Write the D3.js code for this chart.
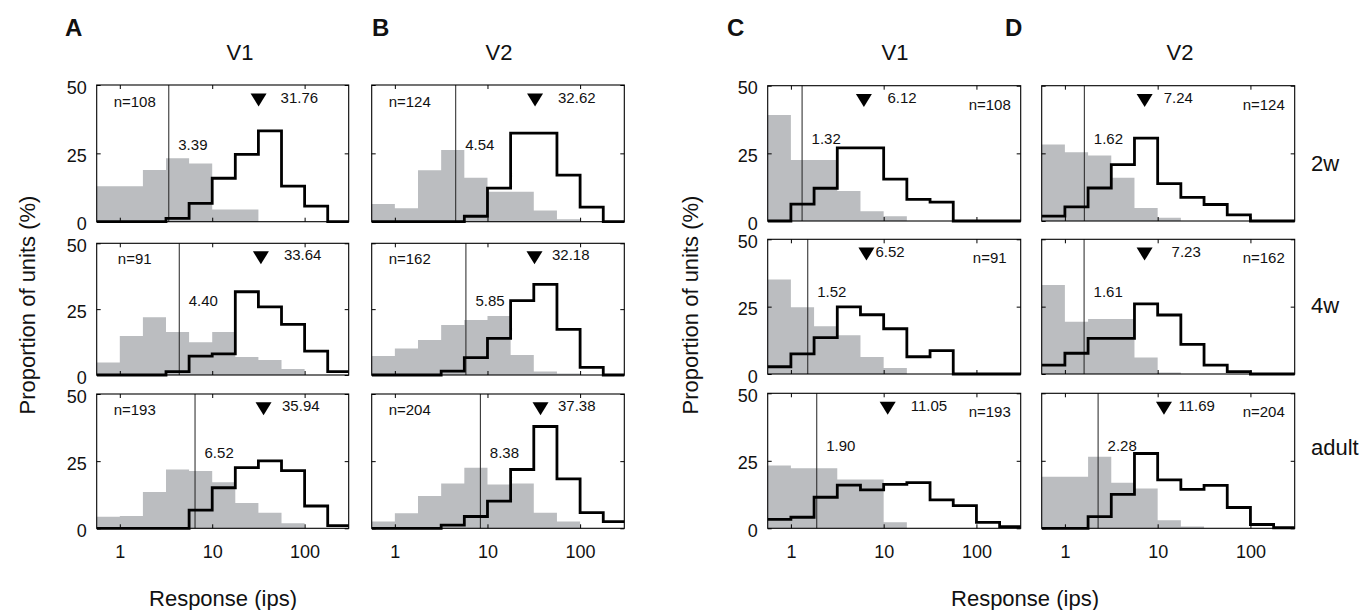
<!DOCTYPE html>
<html>
<head>
<meta charset="utf-8">
<script src="https://cdn.jsdelivr.net/npm/d3@7"></script>
<style>
  html, body { margin: 0; padding: 0; background: #fff; }
  svg text { font-family: "Liberation Sans", Arial, Helvetica, sans-serif; fill: #111; }
</style>
</head>
<body>
<svg id="fig" width="1372" height="610"></svg>
<script>
// Quarter-decade bin edges (ips)
const binEdges = [0.5623, 1, 1.778, 3.162, 5.623, 10, 17.78, 31.62, 56.23, 100, 177.8, 316.2];
const xMax = 300;
const xTicks = [1, 10, 100];
const yTicks = [0, 25, 50];
const ages = ["2w", "4w", "adult"];
const areaNames = ["V1", "V2", "V1", "V2"];
const panelLetters = ["A", "B", "C", "D"];

// Gray histograms (% of units per bin), rows: 2w, 4w, adult
const grayA = [
  [13.0, 13.0, 18.9, 23.2, 21.3, 4.5, 4.5, 0, 0, 0, 0],
  [4.7, 14.8, 21.9, 16.3, 12.4, 16.3, 6.8, 5.7, 2.3, 0, 0],
  [4.3, 4.6, 13.5, 21.9, 21.3, 17.1, 9.4, 5.8, 1.9, 0, 0]
];
const grayB = [
  [6.5, 4.9, 18.8, 26.2, 16.1, 11.0, 11.0, 4.1, 0.9, 0, 0],
  [7.2, 10.1, 13.3, 19.0, 20.9, 22.4, 7.6, 1.3, 0.6, 0, 0],
  [2.5, 5.6, 12.0, 16.7, 22.5, 16.3, 16.7, 5.8, 2.5, 0, 0]
];
const grayC = [
  [39.2, 22.5, 22.5, 11.1, 3.6, 1.8, 0, 0, 0, 0, 0],
  [35.1, 24.8, 17.7, 14.4, 6.3, 2.2, 0, 0, 0, 0, 0],
  [23.3, 22.2, 22.2, 18.1, 18.1, 2.2, 0, 0, 0, 0, 0]
];
const grayD = [
  [28.3, 25.4, 24.2, 16.0, 4.8, 1.2, 0, 0, 0, 0, 0],
  [33.0, 19.4, 20.4, 20.4, 6.1, 0.6, 0, 0, 0, 0, 0],
  [19.1, 19.1, 26.5, 16.9, 14.7, 3.0, 0.7, 0, 0, 0, 0]
];

// Black outlined histograms (% of units per bin)
const lineA = [
  [0, 0, 0, 1.2, 6.7, 15.9, 24.6, 33.2, 13.0, 5.7, 0],
  [0, 0, 0, 1.3, 7.2, 8.0, 31.6, 25.9, 19.2, 9.1, 1.3],
  [0, 0, 0, 0, 6.8, 15.1, 22.6, 25.1, 21.5, 8.3, 1.0]
];
const lineB = [
  [0, 0, 0, 0, 2.0, 12.3, 32.4, 32.4, 17.0, 5.3, 0],
  [0, 0, 0, 1.5, 6.6, 13.9, 28.2, 34.4, 17.3, 2.9, 0],
  [0, 0, 0, 1.2, 4.4, 10.1, 21.9, 37.9, 18.4, 5.8, 2.5]
];
const lineC = [
  [0, 6.2, 12.1, 27.0, 27.0, 15.5, 8.0, 7.0, 0, 0, 0],
  [2.7, 7.5, 13.5, 24.9, 22.0, 16.8, 6.4, 8.7, 0, 0, 0],
  [3.3, 4.1, 11.5, 16.0, 14.2, 16.3, 16.9, 10.5, 8.4, 2.2, 0.6]
];
const lineD = [
  [1.8, 5.2, 12.2, 20.8, 30.6, 13.8, 8.7, 6.1, 2.3, 0, 0],
  [3.3, 7.7, 13.2, 13.2, 26.0, 21.9, 11.0, 3.3, 0.9, 0, 0],
  [0, 0, 4.3, 12.6, 27.7, 17.9, 14.4, 15.9, 7.7, 1.4, 0.2]
];

// Medians (thin vertical line), means (triangle) and unit counts
const medianA = [3.39, 4.40, 6.52];
const medianB = [4.54, 5.85, 8.38];
const medianC = [1.32, 1.52, 1.90];
const medianD = [1.62, 1.61, 2.28];
const meanA = [31.76, 33.64, 35.94];
const meanB = [32.62, 32.18, 37.38];
const meanC = [6.12, 6.52, 11.05];
const meanD = [7.24, 7.23, 11.69];
const countA = [108, 91, 193];
const countB = [124, 162, 204];
const countC = [108, 91, 193];
const countD = [124, 162, 204];

// ---- layout ----
const colX = [[96.7, 348.7], [371.7, 624.3], [767.7, 1020.7], [1041.7, 1294.7]];
const rowYLeft = [[85, 221.7], [243.3, 375], [394, 528.3]];
const rowYRight = [[85.7, 221], [239.3, 374], [393.3, 528.3]];
const meanLabelDx = [[22, 23, 18.5], [23, 17.5, 17.5], [23.5, 9, 23], [19, 27, 14.5]];

const columns = [
  { gray: grayA, line: lineA, med: medianA, mean: meanA, n: countA, nRight: false, yLabels: true },
  { gray: grayB, line: lineB, med: medianB, mean: meanB, n: countB, nRight: false, yLabels: false },
  { gray: grayC, line: lineC, med: medianC, mean: meanC, n: countC, nRight: true, yLabels: true },
  { gray: grayD, line: lineD, med: medianD, mean: meanD, n: countD, nRight: true, yLabels: false }
];

const svg = d3.select("#fig");
const fmt2 = d3.format(".2f");

function stepPoints(vals) {
  const pts = [];
  vals.forEach((v, i) => {
    pts.push([binEdges[i], v]);
    pts.push([binEdges[i + 1], v]);
  });
  return pts;
}

columns.forEach((col, ci) => {
  const rows = ci < 2 ? rowYLeft : rowYRight;
  rows.forEach((ry, ri) => {
    const [x0, x1] = colX[ci];
    const [top, bottom] = ry;
    const x = d3.scaleLog().domain([binEdges[0], xMax]).range([x0, x1]);
    const y = d3.scaleLinear().domain([0, 50]).range([bottom, top]);
    const g = svg.append("g");
    const clipId = `clip-${ci}-${ri}`;
    g.append("clipPath").attr("id", clipId)
      .append("rect").attr("x", x0).attr("y", top - 6)
      .attr("width", x1 - x0).attr("height", bottom - top + 12);

    const gray = stepPoints(col.gray[ri]);
    g.append("path")
      .attr("clip-path", `url(#${clipId})`)
      .attr("fill", "#bbbdc0")
      .attr("d", d3.area().x(d => x(d[0])).y0(y(0)).y1(d => y(d[1]))(gray));

    // median line
    g.append("line")
      .attr("x1", x(col.med[ri])).attr("x2", x(col.med[ri]))
      .attr("y1", top).attr("y2", bottom)
      .attr("stroke", "#222").attr("stroke-width", 1);

    const blk = stepPoints(col.line[ri]);
    g.append("path")
      .attr("clip-path", `url(#${clipId})`)
      .attr("fill", "none").attr("stroke", "#000")
      .attr("stroke-width", 2.8).attr("stroke-linejoin", "miter")
      .attr("d", d3.line().x(d => x(d[0])).y(d => y(d[1]))(blk));

    // frame
    g.append("rect").attr("x", x0).attr("y", top)
      .attr("width", x1 - x0).attr("height", bottom - top)
      .attr("fill", "none").attr("stroke", "#000").attr("stroke-width", 1.1);

    // axes with inward ticks
    const isBottomRow = ri === 2;
    const axB = g.append("g").attr("transform", `translate(0,${bottom})`)
      .call(d3.axisBottom(x).tickValues(xTicks).tickSize(-4).tickPadding(17)
        .tickFormat(isBottomRow ? d3.format("d") : () => ""));
    const axT = g.append("g").attr("transform", `translate(0,${top})`)
      .call(d3.axisTop(x).tickValues(xTicks).tickSize(-4).tickFormat(() => ""));
    const axL = g.append("g").attr("transform", `translate(${x0},0)`)
      .call(d3.axisLeft(y).tickValues(yTicks).tickSize(-4).tickPadding(10)
        .tickFormat(col.yLabels ? d3.format("d") : () => ""));
    const axR = g.append("g").attr("transform", `translate(${x1},0)`)
      .call(d3.axisRight(y).tickValues(yTicks).tickSize(-4).tickFormat(() => ""));
    [axB, axT, axL, axR].forEach(a => {
      a.select(".domain").remove();
      a.selectAll(".tick line").attr("stroke", "#000").attr("stroke-width", 1);
      a.selectAll("text").attr("font-size", 18)
        .attr("font-family", '"Liberation Sans", Arial, sans-serif').attr("fill", "#111");
    });
    axL.selectAll("text").attr("dy", "0.45em");

    // mean marker
    const mx = x(col.mean[ri]);
    const my = y(44.5);
    g.append("path")
      .attr("d", `M${mx - 8},${my - 6.5}L${mx + 8},${my - 6.5}L${mx},${my + 6.5}Z`)
      .attr("fill", "#000");
    g.append("text")
      .attr("x", mx + meanLabelDx[ci][ri]).attr("y", y(45.5))
      .attr("dy", "0.35em").attr("font-size", 15)
      .text(fmt2(col.mean[ri]));

    // median label
    g.append("text")
      .attr("x", x(col.med[ri]) + 9.5).attr("y", y(ci < 2 ? 28 : 30.5))
      .attr("dy", "0.35em").attr("font-size", 15)
      .text(fmt2(col.med[ri]));

    // unit count
    g.append("text")
      .attr("x", col.nRight ? x1 - 31 : x0 + 38)
      .attr("y", y(col.nRight ? 43 : 44))
      .attr("dy", "0.35em").attr("font-size", 15)
      .attr("text-anchor", "middle")
      .text(`n=${col.n[ri]}`);
  });
});

// panel letters and area titles
const letterX = [65, 372, 727, 1005];
const titleX = [240, 499, 895, 1180];
panelLetters.forEach((L, i) => {
  svg.append("text").attr("x", letterX[i]).attr("y", 36)
    .attr("font-size", 24).attr("font-weight", "bold").text(L);
  svg.append("text").attr("x", titleX[i]).attr("y", 60)
    .attr("font-size", 22).attr("text-anchor", "middle").text(areaNames[i]);
});

// axis titles
[27, 690].forEach(cx => {
  svg.append("text")
    .attr("transform", `translate(${cx},305) rotate(-90)`)
    .attr("text-anchor", "middle").attr("dy", "0.35em")
    .attr("font-size", 22).text("Proportion of units (%)");
});
[223, 1025].forEach(cx => {
  svg.append("text").attr("x", cx).attr("y", 598)
    .attr("text-anchor", "middle").attr("dy", "0.35em")
    .attr("font-size", 22).text("Response (ips)");
});

// age labels
const ageY = [163, 305, 447];
ages.forEach((a, i) => {
  svg.append("text").attr("x", 1311).attr("y", ageY[i])
    .attr("dy", "0.35em").attr("font-size", 22).text(a);
});
</script>
</body>
</html>
